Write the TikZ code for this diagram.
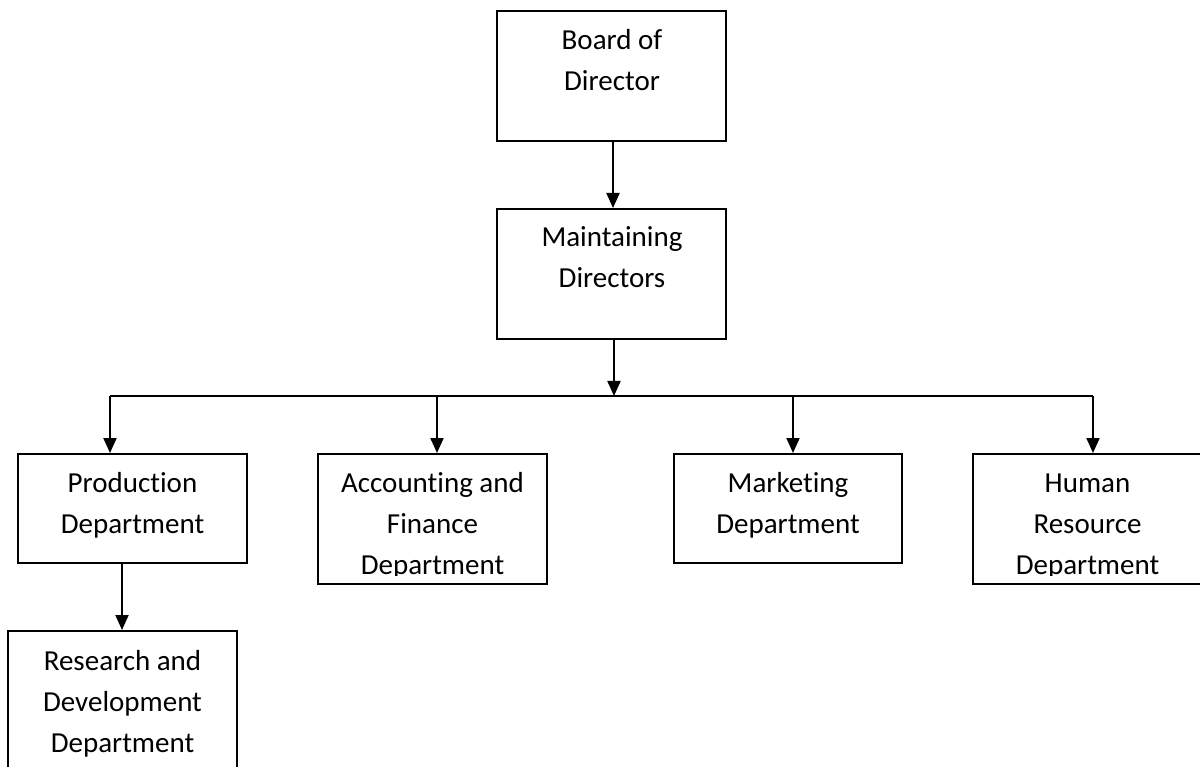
\documentclass[tikz,border=0pt]{standalone}
\usepackage{fontspec}
\setmainfont{Carlito}[Ligatures=NoCommon]
\usetikzlibrary{arrows.meta}
\begin{document}
\begin{tikzpicture}[x=1pt,y=-1pt,
  box/.style={draw=black,line width=2pt,rectangle,inner sep=0pt,minimum width=229pt},
  txt/.style={anchor=base,inner sep=0pt,font=\fontsize{29}{41}\selectfont},
  arr/.style={line width=2pt,-{Triangle[length=15pt,width=13pt]}},
  bus/.style={line width=2pt}]
\useasboundingbox (0,0) rectangle (1200,767);
\clip (0,0) rectangle (1200,767);
% boxes
\node[box,minimum height=130pt] (board) at (611.5,76) {};
\node[box,minimum height=130pt] (maint) at (611.5,274) {};
\node[box,minimum height=109pt] (prod) at (132.5,508.5) {};
\node[box,minimum height=130pt] (acc) at (432.5,519) {};
\node[box,minimum height=109pt,minimum width=228pt] (mkt) at (788,508.5) {};
\node[box,minimum height=130pt] (hr) at (1087.5,519) {};
\node[box,minimum height=150pt] (rd) at (122.5,706) {};
% texts
\node[txt] (t1) at (612,50) {Board of};
\node[txt] (t2) at (612,91) {Director};
\node[txt] (t3) at (612,247) {Maintaining};
\node[txt] (t4) at (612,288) {Directors};
\node[txt] (t5) at (132.5,492) {Production};
\node[txt] (t6) at (132.5,533) {Department};
\begin{scope}
\clip (318,454) rectangle (547,575);
\node[txt] (t7) at (432.5,492) {Accounting and};
\node[txt] (t8) at (432.5,533) {Finance};
\node[txt] (t9) at (432.5,574) {Department};
\end{scope}
\node[txt] (t10) at (788,492) {Marketing};
\node[txt] (t11) at (788,533) {Department};
\begin{scope}
\clip (973,454) rectangle (1202,575);
\node[txt] (t12) at (1087.5,492) {Human};
\node[txt] (t13) at (1087.5,533) {Resource};
\node[txt] (t14) at (1087.5,574) {Department};
\end{scope}
\node[txt] (t15) at (122.5,670) {Research and};
\node[txt] (t16) at (122.5,711) {Development};
\node[txt] (t17) at (122.5,752) {Department};
% connectors
\coordinate (b0) at (614,396);
\coordinate (j1) at (110,396);
\coordinate (j2) at (437,396);
\coordinate (j3) at (793,396);
\coordinate (j4) at (1093,396);
\draw[arr] (613,0 |- board.south) -- (613,0 |- maint.north);
\draw[arr] (b0 |- maint.south) -- (b0);
\draw[bus] (j1) -- (j4);
\draw[arr] (j1) -- (j1 |- prod.north);
\draw[arr] (j2) -- (j2 |- acc.north);
\draw[arr] (j3) -- (j3 |- mkt.north);
\draw[arr] (j4) -- (j4 |- hr.north);
\coordinate (p0) at (122,0);
\draw[arr] (p0 |- prod.south) -- (p0 |- rd.north);
\end{tikzpicture}
\end{document}
